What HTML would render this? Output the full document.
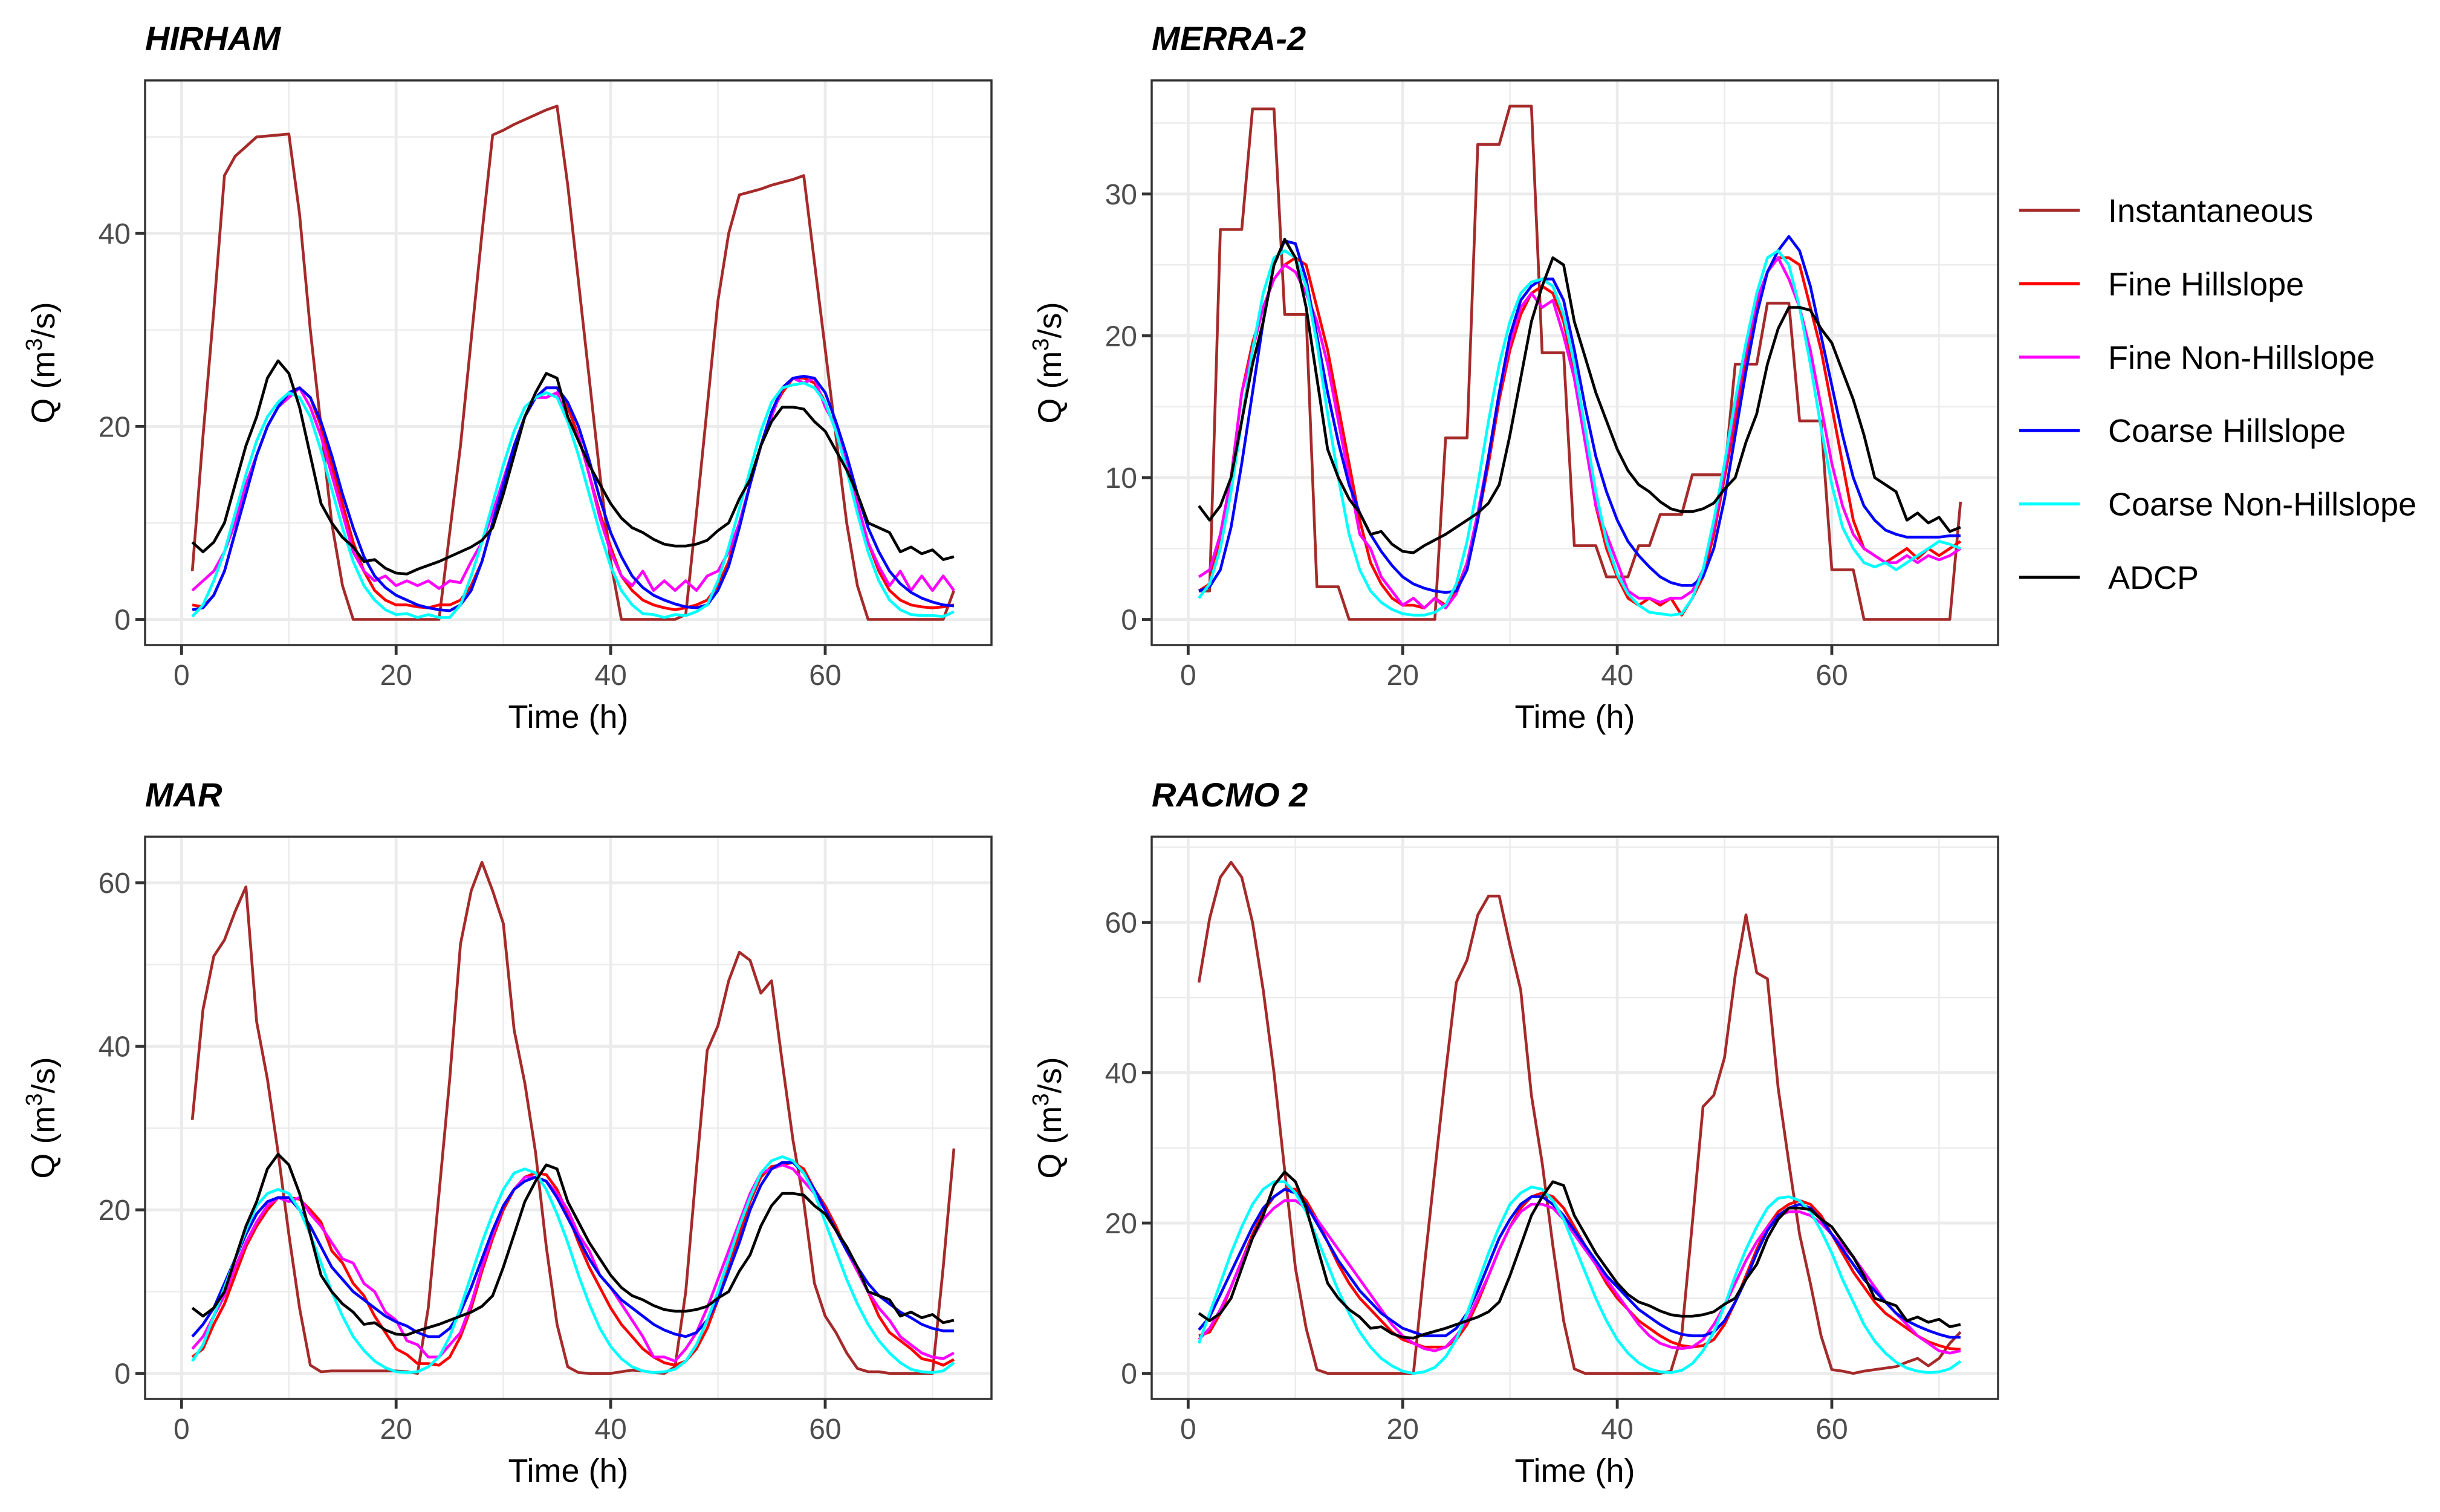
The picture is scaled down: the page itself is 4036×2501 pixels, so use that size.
<!DOCTYPE html>
<html><head><meta charset="utf-8"><style>
html,body{margin:0;padding:0;background:#fff}
svg{display:block}
text{font-family:"Liberation Sans",Arial,sans-serif}
</style></head><body>
<svg id="chart" width="4036" height="2501" viewBox="0 0 4036 2501" xmlns="http://www.w3.org/2000/svg"></svg>
<script>
const hours = Array.from({length:72},(_,i)=>i+1);
const seriesNames = ["Instantaneous","Fine Hillslope","Fine Non-Hillslope","Coarse Hillslope","Coarse Non-Hillslope","ADCP"];
const seriesColors = ["#a52a2a","#ff0000","#ff00ff","#0000ff","#00ffff","#000000"];
const panelTitles = ["HIRHAM","MERRA-2","MAR","RACMO 2"];
const xTicks = [0,20,40,60];
const yTicksHirham = [0,20,40];
const yTicksMerra = [0,10,20,30];
const yTicksMar = [0,20,40,60];
const yTicksRacmo = [0,20,40,60];

const adcp = [8,7,8,10,14,18,21,25,26.8,25.5,22,17,12,10,8.5,7.5,6,6.2,5.3,4.8,4.7,5.2,5.6,6,6.5,7,7.5,8.2,9.5,13,17,21,23.5,25.5,25,21,18.5,16,14,12,10.5,9.5,9,8.3,7.8,7.6,7.6,7.8,8.2,9.2,10,12.5,14.5,18,20.5,22,22,21.8,20.5,19.5,17.5,15.5,13,10,9.5,9,7,7.5,6.8,7.2,6.2,6.5];

const hirhamInst = [5,19,32,46,48,49,50,50.1,50.2,50.3,42,30,20,10,3.5,0,0,0,0,0,0,0,0,0,9,18,29,40,50.2,50.7,51.3,51.8,52.3,52.8,53.2,45,35,25,15,6,0,0,0,0,0,0,0.5,11,22,33,40,44,44.3,44.6,45,45.3,45.6,46,37,28,19,10,3.5,0,0,0,0,0,0,0,0,3];
const hirhamFineH = [1.5,1.3,2.5,5,9,13,17,20,22,23.5,24,23,20,16,12,8,5,3,2,1.5,1.5,1.3,1.2,1.5,1.5,2,3.5,6,10,14,18,21,23,24,24,22,19,15,11,7.5,4.5,3,2,1.5,1.2,1,1.2,1.5,2,3.5,6,10,14,18,21.5,23.5,25,25,24.5,22.5,19.5,16,12,8,5,3,2,1.5,1.3,1.2,1.3,1.5];
const hirhamFineN = [3,4,5,7,10,14,17,20,22,23,24,22,19,15,11,7,5,4,4.5,3.5,4,3.5,4,3.2,4,3.8,6,8,11,14.5,18,21,23,23,23.5,20.5,19,15,10.5,7,4.5,3.5,5,3,4,3,4,3,4.5,5,7,10,14,18,21,24,25,24.5,25,22,20,16,12,8,5.5,3.5,5,3,4.5,3,4.5,3];
const hirhamCoarseH = [1,1.2,2.5,5,9,13,17,20,22,23.5,24,23,20.5,17,13,9.5,6.5,4.5,3.3,2.5,2,1.5,1.2,1,0.9,1.5,3,6,10,14,18,21,23,24,24,22.5,20,16.5,12.5,9,6.5,4.5,3.3,2.5,2,1.6,1.3,1.2,1.5,3,5.5,9.5,14,18,21.5,24,25,25.2,25,23.5,20.5,17,13,9.5,7,5,3.7,2.8,2.2,1.8,1.5,1.4];
const hirhamCoarseN = [0.3,1.5,4,7,11,15,18.5,21,22.5,23.5,23,21,17.5,13.5,9.5,6,3.5,2,1,0.5,0.6,0.2,0.5,0.2,0.2,1.5,4.5,8,12,16,19.5,22,23,23.5,23,20.5,17,13,9,5.5,3,1.5,0.6,0.5,0.2,0.5,0.4,0.8,1.5,4,7.5,11.5,15.5,19.5,22.5,24,24.3,24.5,24,22.5,19.5,15.5,11,7,4,2,1,0.5,0.4,0.4,0.3,0.8];

const merraInst = [2,2,27.5,27.5,27.5,36,36,36,21.5,21.5,21.5,2.3,2.3,2.3,0,0,0,0,0,0,0,0,0,12.8,12.8,12.8,33.5,33.5,33.5,36.2,36.2,36.2,18.8,18.8,18.8,5.2,5.2,5.2,3,3,3,5.2,5.2,7.4,7.4,7.4,10.2,10.2,10.2,10.2,18,18,18,22.3,22.3,22.3,14,14,14,3.5,3.5,3.5,0,0,0,0,0,0,0,0,0,8.3];
const merraFineH = [2,2.5,6,10,16,19.5,22,24,25,25.5,25,22,19,15,11,7,4,2.5,1.5,1,1,0.8,1.5,1,2,4,7,11,15.5,19,21.5,23,23.5,23,21,17.5,13,8,5,3,1.5,1,1.5,1,1.5,0.3,1.5,3,6,10,14,18,22,24.5,25.5,25.5,25,22,19,15,11,7,5,4.5,4,4.5,5,4.3,5,4.5,5,5.5];
const merraFineN = [3,3.5,6,10,16,19,22,24,25,24.5,23,21,18,14,10,6,5,3,2,1,1.5,0.8,1.5,0.8,1.8,4,7.5,11.5,16,19.5,22,23,22,22.5,20,17,12.5,8,6,4,2,1.5,1.5,1.2,1.5,1.5,2,3.5,6.5,10.5,15,19,22.5,24.5,25.5,24,22,19,15,11,8,6,5,4.5,4,4,4.5,4,4.5,4.2,4.5,5];
const merraCoarseH = [2,2.3,3.5,6.5,11,16,21,25,26.7,26.5,24,20,16,12.5,9.5,7.5,6,4.8,3.8,3,2.5,2.2,2,1.9,2,3.5,7,11.5,16,20,22.5,23.5,24,24,22.5,19,15,11.5,9,7,5.5,4.5,3.7,3,2.6,2.4,2.4,3,5,8.5,13,17.5,21.5,24.5,26,27,26,23.5,20,16.5,13,10,8,7,6.3,6,5.8,5.8,5.8,5.8,5.9,5.9];
const merraCoarseN = [1.5,2.5,5,9,14,19,23,25.5,26,25.5,23.5,19.5,14.5,10,6,3.5,2,1.2,0.7,0.4,0.3,0.3,0.5,1,2.5,5.5,9.5,14,18,21,23,23.8,24,23.5,21.5,18,13.5,9,5.5,3.2,1.8,1,0.5,0.4,0.3,0.4,1.5,3.5,7,11,15.5,19.5,23,25.5,26,25,22,18,13.5,9.5,6.5,5,4,3.7,4,3.5,4,4.5,5,5.5,5.3,5];

const marInst = [31,44.5,51,53,56.5,59.5,43,36,27,17,8,1,0.2,0.3,0.3,0.3,0.3,0.3,0.3,0.3,0.2,0,8,22,36,52.5,59,62.5,59,55,42,35.5,27,15.5,6,0.8,0.1,0,0,0,0.2,0.4,0.3,0.1,0,0.8,10,25,39.5,42.5,48,51.5,50.5,46.5,48,38,28.5,21,11,7,5,2.5,0.6,0.2,0.2,0,0,0,0,0,13,27.5];
const marFineH = [2,3,6,8.5,12,15.5,18,20,21.5,21.5,21.3,20,18.5,15,13.5,11,9.5,7,5,3,2.3,1.2,1.2,1,2,4.5,8,12.5,16.5,20,22.5,24,24.5,24.3,22.5,19.5,16,13,10.5,8,6,4.5,3,2,1.3,1,1.5,3,5.5,9,13,17,21,24,25.3,25.5,25.8,25,22.5,20.5,18,15,12.5,10,7,5,4,3,1.8,1.5,1,1.7];
const marFineN = [3,4.5,7,9.5,13,16,18.5,20.5,21.5,21,21.5,19.5,18,16,14,13.5,11,10,7.5,6.5,4,3.5,2,2,3.5,5,8.5,13,17,20.5,22.5,24,24,23.5,22,20,17,15,12,10.5,8.5,6.5,4.5,2,2,1.5,3,5,8,11.5,15,18.5,22,24.5,25,25.5,25,23.5,22,20,17.5,15,12.5,10,8,6.5,4.5,3.5,2.5,2,1.8,2.5];
const marCoarseH = [4.5,6,8,11,14,17,19.5,21,21.5,21.5,20,18,15.5,13,11.5,10,9,8,7,6.3,5.8,5,4.5,4.5,5.5,7.5,10.5,14,17.5,20.5,22.5,23.5,24,23.5,21.5,19,16.5,14,12,10.5,9,8,7,6,5.3,4.8,4.5,5,6.5,9,12.5,16,20,23,25,25.8,25.8,24.5,22.5,20,17.5,15,13,11,9.5,8.5,7.5,6.8,6,5.5,5.2,5.2];
const marCoarseN = [1.5,3.5,7,10.5,14,17.5,20.5,22,22.5,22,20,17,13.5,10,7,4.5,2.8,1.5,0.7,0.2,0.1,0.2,0.8,2,4.5,8,12,16,19.5,22.5,24.5,25,24.5,22.5,19.5,16,12,8.5,5.5,3.3,1.8,0.8,0.3,0.1,0.2,0.5,1.5,3.5,6.5,10,14,18,21.5,24.5,26,26.5,26,24.5,22,18.5,15,11.5,8.5,6,4,2.5,1.3,0.5,0.2,0.1,0.3,1.3];

const racmoInst = [52,60.5,66,68,66,60,51,40,27,14,6,0.5,0,0,0,0,0,0,0,0,0,14,27,40,52,55,61,63.5,63.5,57,51,37,28,17,7,0.6,0,0,0,0,0,0,0,0,0.3,5,20,35.5,37,42,53,61,53.3,52.5,38,28,18.5,12,5,0.5,0.3,0,0.3,0.5,0.7,0.9,1.5,2,1,2,4,5.5];
const racmoFineH = [5,5.5,8,11.5,15,18.5,21.5,23.5,24.5,24.5,23,20.5,17.5,14.5,12,10,8.5,7,5.5,4.5,4,3.5,3.5,3.5,4.5,6.5,9.5,13,16.5,19.5,22,23.5,24,23.5,22,19.5,17,14.5,12,10,8.5,7,6,5,4.2,3.7,3.5,3.7,4.5,6.5,9.5,13,16.5,19.5,21.5,22.5,23,22.5,21,18.5,16,13.5,11.5,9.5,8,7,6,5,4.2,3.7,3.3,3.2];
const racmoFineN = [4.5,6,8.5,11.5,15,18,20.5,22,23,23,22,20.5,18.5,16.5,14.5,12.5,10.5,8.5,6.5,5,4,3.3,3,3.5,5,7,10,13,16.5,19.5,21.5,22.5,22.5,22,20.5,18.5,16.5,14.5,12.5,10.5,8.5,6.5,5,4,3.5,3.3,3.5,4.5,6.5,9,12,15,17.5,19.5,21,21.5,21.5,21,20,18.5,17,15.5,13.5,11.5,9.5,8,6.5,5,4,3,2.7,3];
const racmoCoarseH = [5.8,7.5,10.5,13.5,16.5,19.5,22,23.5,24.5,24,22.5,20,17.5,15,13,11,9.5,8,7,6,5.5,5,5,5,6,8,11,14.5,18,20.5,22.5,23.5,23.5,22.5,21,19,17,15,13,11.5,10,8.5,7.5,6.5,5.7,5.2,5,5,5.5,7,9.5,12.5,16,19,21,22,22.5,22,20.5,18.5,16.5,14.5,12.5,11,9.5,8,7,6.3,5.7,5.2,4.8,4.8];
const racmoCoarseN = [4,8,12,16,19.5,22.5,24.5,25.5,25.5,24,21.5,18,14.5,11,8,5.5,3.5,2,1,0.3,0,0.2,0.8,2.2,4.5,8,12,16,19.5,22.5,24,24.8,24.5,23,20.5,17,13.5,10,7,4.5,2.7,1.4,0.6,0.2,0.1,0.4,1.3,3,5.5,9,13,16.5,19.5,22,23.3,23.5,23,21.5,19,16,12.5,9.5,6.5,4.3,2.7,1.5,0.7,0.3,0.1,0.2,0.6,1.6];

const NS="http://www.w3.org/2000/svg";
const svg=document.getElementById('chart');
function mk(tag,attrs,parent){const e=document.createElementNS(NS,tag);for(const k in attrs)e.setAttribute(k,attrs[k]);(parent||svg).appendChild(e);return e;}

const panels=[
 {title:panelTitles[0],x0:240,y0:133,w:1400,h:934,yTicks:yTicksHirham,series:[hirhamInst,hirhamFineH,hirhamFineN,hirhamCoarseH,hirhamCoarseN,adcp],key:'hirham'},
 {title:panelTitles[1],x0:1905,y0:133,w:1400,h:934,yTicks:yTicksMerra,series:[merraInst,merraFineH,merraFineN,merraCoarseH,merraCoarseN,adcp],key:'merra2'},
 {title:panelTitles[2],x0:240,y0:1384,w:1400,h:930,yTicks:yTicksMar,series:[marInst,marFineH,marFineN,marCoarseH,marCoarseN,adcp],key:'mar'},
 {title:panelTitles[3],x0:1905,y0:1384,w:1400,h:930,yTicks:yTicksRacmo,series:[racmoInst,racmoFineH,racmoFineN,racmoCoarseH,racmoCoarseN,adcp],key:'racmo2'}
];

panels.forEach(p=>{
  const g=mk('g',{});
  
  
  let maxV=0,minV=0;
  p.series.forEach(s=>s.forEach(v=>{if(v>maxV)maxV=v;}));
  const pad=(maxV-minV)*0.05;
  const yLo=minV-pad,yHi=maxV+pad;
  const xLo=-3.4,xHi=75.5;
  const X=v=>p.x0+(v-xLo)/(xHi-xLo)*p.w;
  const Y=v=>p.y0+p.h-(v-yLo)/(yHi-yLo)*p.h;
  mk('rect',{x:p.x0,y:p.y0,width:p.w,height:p.h,fill:'#fff'},g);
  const step=p.yTicks[1]-p.yTicks[0];
  for(let v=p.yTicks[0]-step/2; v<=yHi; v+=step){ if(v<yLo) continue;
    const ln=mk('line',{x1:p.x0,x2:p.x0+p.w,y1:Y(v),y2:Y(v),stroke:'#ebebeb','stroke-width':2.4},g);
     }
  for(let v=-10; v<=75; v+=20){ if(v<xLo) continue;
    const ln=mk('line',{y1:p.y0,y2:p.y0+p.h,x1:X(v),x2:X(v),stroke:'#ebebeb','stroke-width':2.4},g);
     }
  p.yTicks.forEach(v=>{
    const ln=mk('line',{x1:p.x0,x2:p.x0+p.w,y1:Y(v),y2:Y(v),stroke:'#ebebeb','stroke-width':4.8},g);
     
    const t=mk('line',{x1:p.x0-16,x2:p.x0,y1:Y(v),y2:Y(v),stroke:'#333','stroke-width':4.8},g);
     
    const tx=mk('text',{x:p.x0-24,y:Y(v)+17,'text-anchor':'end','font-size':48,fill:'#4d4d4d'},g);
    tx.textContent=v;
     
  });
  xTicks.forEach(v=>{
    const ln=mk('line',{y1:p.y0,y2:p.y0+p.h,x1:X(v),x2:X(v),stroke:'#ebebeb','stroke-width':4.8},g);
     
    const t=mk('line',{y1:p.y0+p.h,y2:p.y0+p.h+16,x1:X(v),x2:X(v),stroke:'#333','stroke-width':4.8},g);
     
    const tx=mk('text',{x:X(v),y:p.y0+p.h+66,'text-anchor':'middle','font-size':48,fill:'#4d4d4d'},g);
    tx.textContent=v;
     
  });
  p.series.forEach((s,i)=>{
    const d=s.map((v,j)=>(j?'L':'M')+X(hours[j]).toFixed(1)+' '+Y(v).toFixed(1)).join(' ');
    const path=mk('path',{d:d,fill:'none',stroke:seriesColors[i],'stroke-width':4.6,'stroke-linejoin':'round'},g);
    
    
  });
  const b=mk('rect',{x:p.x0,y:p.y0,width:p.w,height:p.h,fill:'none',stroke:'#333','stroke-width':3.5},g);
   
  const tt=mk('text',{x:p.x0,y:p.y0-50,'font-size':56,'font-weight':'bold','font-style':'italic',fill:'#000'},g);
  tt.textContent=p.title;
   
  const xt=mk('text',{x:p.x0+p.w/2,y:p.y0+p.h+137,'text-anchor':'middle','font-size':54,fill:'#000'},g);
  xt.textContent='Time (h)';
   
  const cy=p.y0+p.h/2, cx=p.x0-150;
  const yt=mk('text',{x:cx,y:cy,'text-anchor':'middle','font-size':54,fill:'#000',transform:`rotate(-90 ${cx} ${cy})`},g);
  yt.innerHTML='Q (m<tspan baseline-shift="super" font-size="38">3</tspan>/s)';
   
});

const lg=mk('g',{});
 
mk('rect',{x:3308,y:212,width:728,height:842,fill:'#fff'},lg);
seriesNames.forEach((n,i)=>{
  const y=348+i*121.4;
  const e=mk('g',{},lg);
   
  mk('line',{x1:3340,x2:3440,y1:y,y2:y,stroke:seriesColors[i],'stroke-width':5},e);
  const t=mk('text',{x:3487,y:y+19,'font-size':54,fill:'#000'},e);
  t.textContent=n;
});
</script>
</body></html>
